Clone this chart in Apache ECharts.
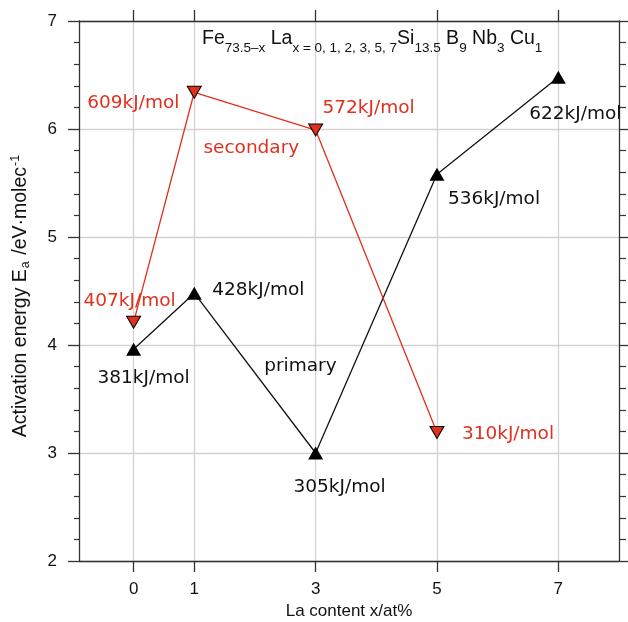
<!DOCTYPE html>
<html><head><meta charset="utf-8">
<script src="https://cdn.jsdelivr.net/npm/echarts@6/dist/echarts.min.js"></script>
<style>html,body{margin:0;padding:0;background:#fff}#c{width:628px;height:622px}</style>
</head><body><div id="c"></div>
<script>
// ---- data ----
const xTicks = [0, 1, 3, 5, 7];
const primaryX = [0, 1, 3, 5, 7];
const primaryEa = [3.96, 4.48, 3.00, 5.58, 6.48];
const primaryLabels = ['381kJ/mol', '428kJ/mol', '305kJ/mol', '536kJ/mol', '622kJ/mol'];
const secondaryX = [0, 1, 3, 5];
const secondaryEa = [4.21, 6.34, 5.99, 3.19];
const secondaryLabels = ['407kJ/mol', '609kJ/mol', '572kJ/mol', '310kJ/mol'];
const seriesNames = ['primary', 'secondary'];

// ---- styling ----
const RED = '#e0301e';
const GRID = '#d8d0ce';
const AX = '#333';
const LABEL_FONT = 'DejaVu Sans';
const LABEL_SIZE = 18.5;
const primaryOffsets = [[10, 29], [64, -3], [24, 34], [57, 25], [17, 37]];
const secondaryOffsets = [[-4, -21], [-61, 11], [53, -22], [71, 2]];

function build(xs, ys, labels, offsets, color) {
  return xs.map((x, i) => ({
    value: [x, ys[i]],
    label: {
      show: true, formatter: labels[i], position: 'inside',
      offset: offsets[i], color: color,
      fontFamily: LABEL_FONT, fontSize: LABEL_SIZE
    }
  }));
}

const chart = echarts.init(document.getElementById('c'), null, {renderer: 'canvas'});
const tickFont = {fontFamily: 'Liberation Sans', fontSize: 17, color: '#111'};

chart.setOption({
  animation: false,
  backgroundColor: '#fff',
  title: {
    left: 197, top: 24,
    text: '{n|Fe}{s|73.5–x}{n| La}{s|x = 0, 1, 2, 3, 5, 7}{n|Si}{s|13.5}{n| B}{s|9}{n| Nb}{s|3}{n| Cu}{s|1}',
    textStyle: {
      fontWeight: 'normal',
      rich: {
        n: {fontFamily: 'Liberation Sans', fontWeight: 'normal', fontSize: 19.5, lineHeight: 19, color: '#111'},
        s: {fontFamily: 'Liberation Sans', fontWeight: 'normal', fontSize: 13.5, lineHeight: 13, color: '#111', padding: [20, 0, 0, 0]}
      }
    }
  },
  grid: {left: 79, top: 21, width: 540, height: 540, containLabel: false, outerBoundsMode: 'none'},
  xAxis: [{
    type: 'value', min: -0.9, max: 8, position: 'bottom',
    name: 'La content x/at%', nameLocation: 'middle', nameGap: 38,
    nameTextStyle: {fontFamily: 'Liberation Sans', fontSize: 17, color: '#111'},
    axisLine: {show: true, onZero: false, lineStyle: {color: AX, width: 1.3}},
    axisTick: {show: true, length: 11, customValues: xTicks, lineStyle: {color: AX, width: 1.3}},
    axisLabel: Object.assign({customValues: xTicks, margin: 20}, tickFont),
    splitLine: {show: false}
  }, {
    type: 'value', min: -0.9, max: 8, position: 'top',
    axisLine: {show: true, onZero: false, lineStyle: {color: AX, width: 1.3}},
    axisTick: {show: true, length: 11, customValues: xTicks, lineStyle: {color: AX, width: 1.3}},
    axisLabel: {show: false},
    splitLine: {show: false}
  }],
  yAxis: [{
    type: 'value', min: 2, max: 7, interval: 1, position: 'left',
    name: '{n|Activation energy E}{sub|a}{n| /eV·molec}{sup|-1}',
    nameLocation: 'middle', nameGap: 49, nameRotate: 90,
    nameTextStyle: {
      padding: [0, 10, 0, 0],
      rich: {
        n: {fontFamily: 'Liberation Sans', fontSize: 19.5, lineHeight: 18, color: '#111'},
        sub: {fontFamily: 'Liberation Sans', fontSize: 12.5, lineHeight: 12, color: '#111', padding: [10, 1, 0, 1]},
        sup: {fontFamily: 'Liberation Sans', fontSize: 12.5, lineHeight: 12, color: '#111', padding: [0, 0, 10, 1]}
      }
    },
    axisLine: {show: true, onZero: false, lineStyle: {color: AX, width: 1.3}},
    axisTick: {show: true, length: 11, lineStyle: {color: AX, width: 1.3}},
    minorTick: {show: true, splitNumber: 5, length: 5, lineStyle: {color: AX, width: 1.2}},
    axisLabel: Object.assign({margin: 22}, tickFont),
    splitLine: {show: true, lineStyle: {color: GRID, width: 1.3}}
  }, {
    type: 'value', min: 2, max: 7, interval: 1, position: 'right',
    axisLine: {show: true, onZero: false, lineStyle: {color: AX, width: 1.3}},
    axisTick: {show: true, length: 11, lineStyle: {color: AX, width: 1.3}},
    minorTick: {show: true, splitNumber: 5, length: 7, lineStyle: {color: AX, width: 1.2}},
    axisLabel: {show: false},
    splitLine: {show: false}
  }],
  series: [{
    type: 'line', data: [], z: 0, silent: true,
    markLine: {
      z: 0, silent: true, symbol: 'none', animation: false,
      label: {show: false},
      lineStyle: {color: GRID, width: 1.3, type: 'solid'},
      data: xTicks.map(v => ({xAxis: v}))
    }
  }, {
    name: seriesNames[0], type: 'line', z: 3,
    data: build(primaryX, primaryEa, primaryLabels, primaryOffsets, '#111'),
    symbol: 'triangle', symbolSize: [15, 13],
    lineStyle: {color: '#111', width: 1.3},
    itemStyle: {color: '#000'},
    markPoint: {
      symbol: 'circle', symbolSize: 1, itemStyle: {color: 'rgba(0,0,0,0)'},
      label: {show: true, position: 'inside', color: '#111', fontFamily: LABEL_FONT, fontSize: LABEL_SIZE, formatter: seriesNames[0]},
      data: [{coord: [2.75, 3.80]}]
    }
  }, {
    name: seriesNames[1], type: 'line', z: 4,
    data: build(secondaryX, secondaryEa, secondaryLabels, secondaryOffsets, RED),
    symbol: 'triangle', symbolRotate: 180, symbolSize: [14, 12],
    lineStyle: {color: RED, width: 1.3},
    itemStyle: {color: RED, borderColor: '#000', borderWidth: 1},
    markPoint: {
      symbol: 'circle', symbolSize: 1, itemStyle: {color: 'rgba(0,0,0,0)'},
      label: {show: true, position: 'inside', color: RED, fontFamily: LABEL_FONT, fontSize: LABEL_SIZE, formatter: seriesNames[1]},
      data: [{coord: [1.94, 5.82]}]
    }
  }]
});
</script></body></html>
